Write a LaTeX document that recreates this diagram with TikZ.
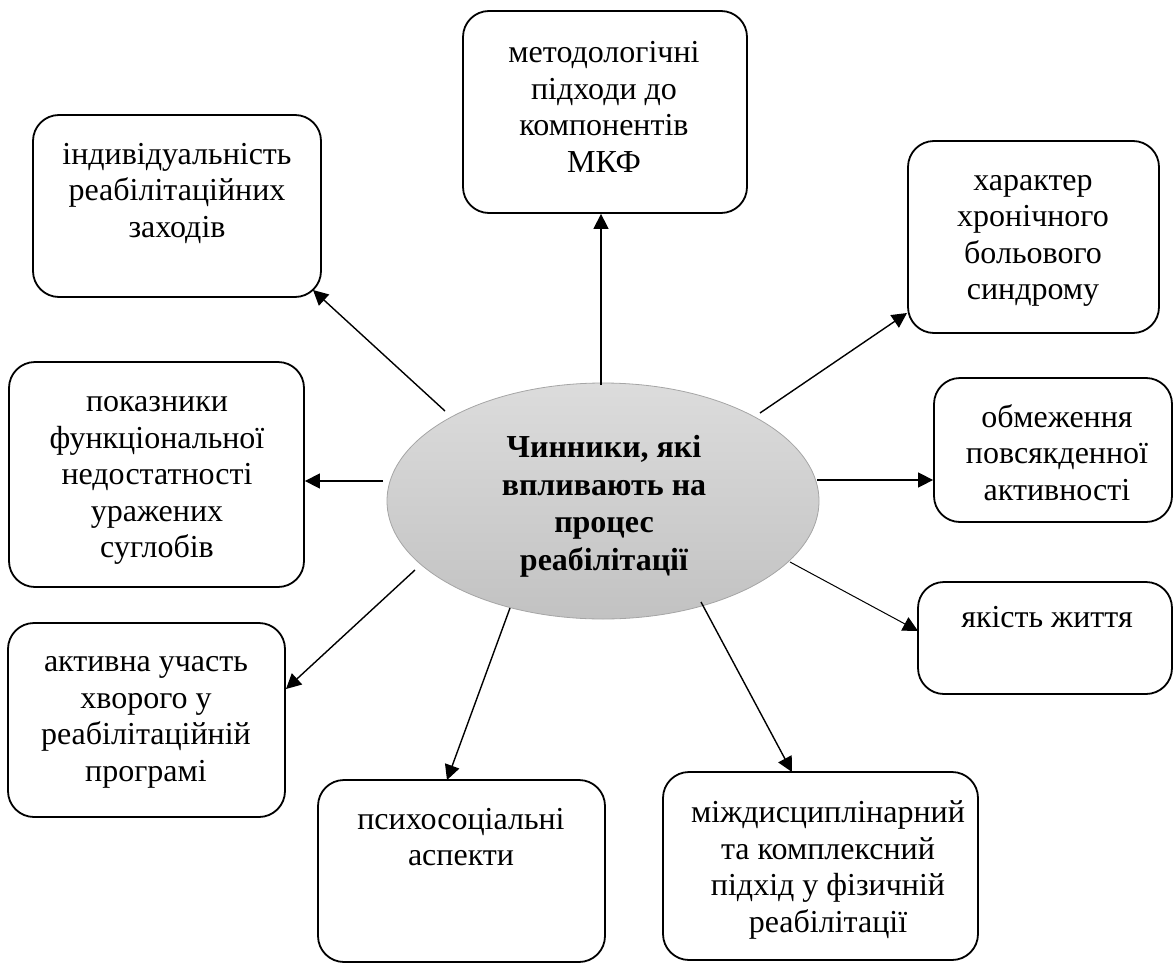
\documentclass[tikz,border=0pt]{standalone}
\usepackage{fontspec}
\setmainfont{Liberation Serif}
\usetikzlibrary{arrows.meta,shapes.geometric}
\definecolor{ellTop}{RGB}{220,220,220}
\definecolor{ellBot}{RGB}{194,194,194}
\definecolor{ellLine}{RGB}{165,165,165}
\tikzset{
  boxn/.style 2 args={draw, line width=1.8pt, rounded corners=26pt, inner sep=0pt,
    minimum width=#1pt, minimum height=#2pt},
  txt/.style={font=\fontsize{32}{36.5}\selectfont, align=center, inner sep=0pt},
  ctxt/.style={font=\fontsize{32}{37.5}\selectfont\bfseries, align=center, inner sep=0pt},
  arr/.style={line width=1.4pt, -{Triangle[length=15pt,width=15pt]}},
  thinarr/.style={line width=1pt, -{Triangle[length=15pt,width=15pt]}}
}
\begin{document}
\begin{tikzpicture}[x=1pt,y=-1pt]
\useasboundingbox (0,0) rectangle (1174,963);
% central ellipse
\node[ellipse, draw=ellLine, line width=0.8pt, top color=ellTop, bottom color=ellBot,
  minimum width=432pt, minimum height=236pt, inner sep=0pt] (c) at (603,501) {};
\node[ctxt] (ct) at (604,506.5) {\strut Чинники, які\\\strut впливають на\\\strut процес\\\strut реабілітації};

% boxes
\node[boxn={284}{202}] (b1) at (605,112) {};
\node[txt] (t1) at (604,110) {\strut методологічні\\\strut підходи до\\\strut компонентів\\\strut МКФ};

\node[boxn={288}{182}] (b2) at (177,206) {};
\node[txt] (t2) at (177,193.5) {\strut індивідуальність\\\strut реабілітаційних\\\strut заходів};

\node[boxn={251}{192}] (b3) at (1033.5,237) {};
\node[txt] (t3) at (1033,237.5) {\strut характер\\\strut хронічного\\\strut больового\\\strut синдрому};

\node[boxn={295}{225}] (b4) at (156.5,474.5) {};
\node[txt] (t4) at (157,477.5) {\strut показники\\\strut функціональної\\\strut недостатності\\\strut уражених\\\strut суглобів};

\node[boxn={238}{144}] (b5) at (1053,450) {};
\node[txt] (t5) at (1057,456.5) {\strut обмеження\\\strut повсякденної\\\strut активності};

\node[boxn={254}{112}] (b6) at (1045,638) {};
\node[txt] (t6) at (1047,620) {\strut якість життя};

\node[boxn={277}{194}] (b7) at (146.5,720) {};
\node[txt] (t7) at (146,719) {\strut активна участь\\\strut хворого у\\\strut реабілітаційній\\\strut програмі};

\node[boxn={287}{182}] (b8) at (461.5,871) {};
\node[txt] (t8) at (461,840) {\strut психосоціальні\\\strut аспекти};

\node[boxn={315}{188}] (b9) at (820.5,866) {};
\node[txt] (t9) at (828,870) {\strut міждисциплінарний\\\strut та комплексний\\\strut підхід у фізичній\\\strut реабілітації};

% arrow start points near the ellipse
\coordinate (s1) at (601,385);
\coordinate (s2) at (445,411);
\coordinate (s3) at (760,413);
\coordinate (s4) at (383,481);
\coordinate (s5) at (817,480);
\coordinate (s6) at (790,562);
\coordinate (s7) at (415,570);
\coordinate (s8) at (510,608);
\coordinate (s9) at (701,602);
% arrow end points on the boxes
\coordinate (e2) at (313,290);
\coordinate (e3) at (907,313);
\coordinate (e6) at (918,631);
\coordinate (e7) at (286,689);
\coordinate (e8) at (447,780);
\coordinate (e9) at (792,772);

\draw[arr] (s1) -- (s1 |- b1.south);
\draw[arr] (s2) -- (e2);
\draw[arr] (s3) -- (e3);
\draw[arr] (s4) -- (b4.east |- s4);
\draw[arr] (s5) -- (b5.west |- s5);
\draw[thinarr] (s6) -- (e6);
\draw[arr] (s7) -- (e7);
\draw[arr] (s8) -- (e8);
\draw[arr] (s9) -- (e9);
\end{tikzpicture}
\end{document}
